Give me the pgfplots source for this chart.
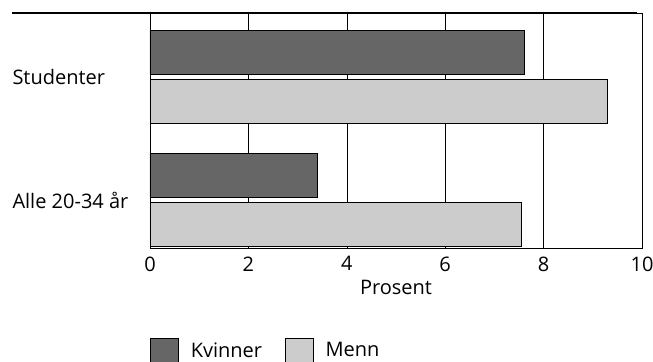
\documentclass[border=0pt]{standalone}
\usepackage{pgfplots}
\pgfplotsset{compat=1.18}
\usepackage{fontspec}
\setmainfont{Open Sans}
\begin{document}
\begin{tikzpicture}
\useasboundingbox (-150bp,-114bp) rectangle (503bp,248bp);
\begin{axis}[
  at={(0,0)}, anchor=south west,
  width=492bp, height=235bp, scale only axis,
  xmin=0, xmax=10, ymin=-0.39, ymax=1.52,
  xtick={0,2,4,6,8,10}, ytick={0,1},
  yticklabels={Alle 20-34 år, Studenter},
  xmajorgrids, major grid style={black, line width=0.6bp},
  major tick length=0pt,
  axis line style={black, line width=0.6bp},
  xbar, bar width=0.36, bar shift=0pt,
  font=\fontsize{20bp}{24bp}\selectfont,
  tick label style={font=\fontsize{20bp}{24bp}\selectfont},
  /pgf/number format/assume math mode=true,
  xlabel={Prosent},
  xticklabel style={yshift=-5bp},
  xlabel style={yshift=-2bp},
  yticklabel style={anchor=west, xshift=-141bp},
  legend style={draw=none, at={(0,-0.383)}, anchor=north west, legend columns=2,
    font=\fontsize{20bp}{24bp}\selectfont, inner sep=0pt,
    /tikz/every odd column/.append style={column sep=10bp},
    /tikz/every even column/.append style={column sep=21bp}},
  legend cell align=left,
  legend image code/.code={\draw[#1, draw=black, line width=0.6bp] (0bp,-12bp) rectangle (28bp,12bp);},
]
\addplot[fill=black!60, draw=black, line width=0.6bp] coordinates {(7.6,1.2) (3.4,0.2)};
\addplot[fill=black!20, draw=black, line width=0.6bp] coordinates {(9.3,0.8) (7.55,-0.2)};
\legend{Kvinner, Menn}
\end{axis}
\draw[black, line width=1.6bp] (-138bp,235bp) -- (487bp,235bp);
\end{tikzpicture}
\end{document}
